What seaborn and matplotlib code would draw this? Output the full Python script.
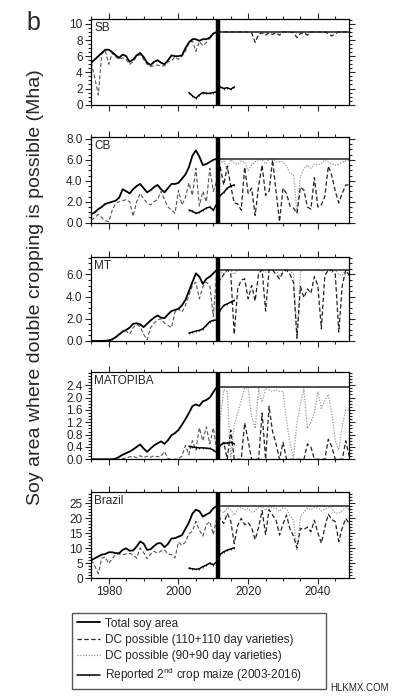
import matplotlib
matplotlib.use("Agg")
import matplotlib.pyplot as plt
import pandas as pd
import seaborn as sns
from matplotlib.ticker import MultipleLocator, FixedLocator, FormatStrFormatter

# years covered by each kind of series
HIST_YEARS = list(range(1975, 2012))
FUT_YEARS = list(range(2011, 2050))
ALL_YEARS = list(range(1975, 2050))
MAIZE_YEARS = list(range(2003, 2017))

REGIONS = ["SB", "CB", "MT", "MATOPIBA", "Brazil"]

# total soy area, 1975-2011 (Mha)
SB_TOTAL = [5.2, 5.6, 6.0, 6.4, 6.8, 6.8, 6.5, 6.1, 5.8, 6.2, 6.0, 5.3, 5.6, 6.1, 6.4, 5.9, 5.2, 4.9, 5.3,
            5.5, 5.2, 5.0, 5.5, 6.1, 6.0, 6.0, 6.1, 7.0, 7.7, 8.1, 8.1, 7.9, 8.1, 8.1, 8.3, 8.8, 9.0]
CB_TOTAL = [0.8, 1.0, 1.3, 1.5, 1.8, 1.9, 2.0, 2.1, 2.4, 3.2, 3.0, 2.8, 3.2, 3.5, 3.7, 3.3, 2.9, 3.1, 3.4,
            3.6, 3.2, 2.9, 3.3, 3.7, 3.7, 3.8, 4.2, 4.6, 5.3, 6.4, 6.9, 6.3, 5.5, 5.6, 5.8, 6.0, 6.1]
MT_TOTAL = [0.0, 0.0, 0.0, 0.0, 0.02, 0.05, 0.15, 0.35, 0.6, 0.85, 1.0, 1.2, 1.55, 1.6, 1.5, 1.25, 1.55,
            1.85, 2.1, 2.3, 2.1, 2.05, 2.4, 2.7, 2.8, 2.9, 3.2, 3.7, 4.5, 5.3, 6.1, 5.8, 5.15, 5.6, 5.8,
            6.1, 6.4]
MATOPIBA_TOTAL = [0.0, 0.0, 0.0, 0.0, 0.0, 0.0, 0.0, 0.02, 0.08, 0.15, 0.2, 0.25, 0.32, 0.4, 0.48, 0.35,
                  0.24, 0.35, 0.45, 0.52, 0.58, 0.5, 0.62, 0.78, 0.85, 0.95, 1.12, 1.3, 1.5, 1.72, 1.78,
                  1.73, 1.88, 1.92, 2.0, 2.18, 2.34]
BRAZIL_TOTAL = [6.0, 6.6, 7.2, 7.8, 8.0, 8.6, 8.6, 8.3, 8.3, 9.4, 9.9, 9.1, 9.2, 10.5, 12.2, 11.5, 9.4,
                9.6, 10.7, 11.6, 11.6, 10.3, 11.4, 13.2, 13.3, 13.8, 14.3, 16.4, 18.5, 21.5, 22.8, 22.3,
                20.5, 21.2, 21.8, 23.3, 24.0]

# DC possible with 110+110 day varieties, 1975-2049
SB_DC110 = [5.2, 3.3, 1.2, 6.3, 6.7, 5.0, 6.4, 5.9, 5.6, 5.8, 5.6, 5.0, 5.3, 6.0, 6.2, 5.6, 5.0, 4.7, 4.8,
            4.9, 4.8, 4.8, 5.3, 5.4, 5.9, 5.6, 6.0, 6.6, 7.6, 7.9, 6.6, 7.8, 7.3, 7.7, 8.2, 8.8, 9.0,
            9.0, 9.0, 9.0, 9.0, 9.0, 9.0, 9.0, 9.0, 9.0, 8.9, 7.7, 8.7, 8.9, 8.6, 8.9, 8.7, 8.9, 8.6,
            9.0, 9.0, 9.0, 8.9, 8.3, 8.8, 8.9, 8.6, 9.0, 9.0, 9.0, 9.0, 9.0, 8.8, 8.5, 8.8, 9.0, 9.0,
            9.0, 9.0]
CB_DC110 = [0.25, 0.5, 0.8, 0.5, 0.2, 0.1, 1.2, 1.85, 2.0, 2.1, 2.2, 2.0, 0.6, 2.0, 2.8, 2.3, 1.9, 1.7,
            2.0, 2.2, 3.0, 2.2, 1.5, 1.2, 0.9, 3.1, 1.7, 2.4, 3.8, 2.6, 5.2, 1.6, 3.0, 2.0, 5.2, 3.0, 4.0,
            5.3, 3.6, 5.4, 3.5, 1.9, 1.8, 1.2, 5.3, 2.8, 3.3, 0.7, 3.5, 5.5, 2.6, 3.0, 6.0, 3.0, 0.1,
            3.3, 2.8, 1.6, 1.4, 0.9, 3.4, 3.1, 1.5, 1.3, 4.3, 1.5, 1.7, 2.5, 5.4, 4.5, 3.0, 1.9, 2.8,
            3.6, 3.6]
MT_DC110 = [0.0, 0.0, 0.0, 0.0, 0.0, 0.02, 0.1, 0.3, 0.55, 0.8, 0.9, 0.6, 1.2, 1.5, 1.3, 0.6, 0.1, 1.2,
            1.6, 1.9, 2.0, 1.6, 1.4, 1.2, 2.6, 2.9, 2.6, 3.2, 4.1, 5.0, 5.3, 3.8, 4.9, 5.3, 5.0, 2.2, 6.4,
            5.5, 6.0, 6.4, 6.1, 0.6, 4.7, 5.5, 5.6, 3.8, 5.0, 3.6, 6.1, 6.4, 2.7, 6.4, 6.4, 6.0, 5.6,
            6.2, 6.4, 6.0, 5.3, 0.25, 4.9, 3.9, 4.7, 4.3, 5.8, 5.0, 1.1, 5.9, 6.4, 6.4, 6.0, 0.8, 5.0,
            6.4, 5.9]
MATOPIBA_DC110 = [0.0, 0.0, 0.0, 0.0, 0.0, 0.0, 0.0, 0.0, 0.0, 0.02, 0.05, 0.08, 0.1, 0.05, 0.12, 0.05,
                  0.1, 0.06, 0.12, 0.08, 0.1, 0.25, 0.02, 0.0, 0.0, 0.02, 0.1, 0.45, 0.15, 0.6, 0.3,
                  1.02, 0.6, 1.05, 0.5, 1.02, 0.3,
                  0.45, 0.55, 0.0, 0.95, 0.0, 0.0, 0.0, 1.18, 0.6, 0.0, 0.0, 0.0, 1.5, 0.0, 1.72, 0.9,
                  0.5, 0.0, 0.55, 0.0, 0.0, 0.0, 0.0, 0.0, 0.0, 0.5, 0.4, 0.0, 0.0, 0.0, 0.0, 0.65, 0.4,
                  0.0, 0.0, 0.0, 0.6, 0.1]
BRAZIL_DC110 = [6.0, 4.0, 1.5, 6.7, 7.0, 4.8, 6.5, 7.9, 8.0, 7.8, 8.0, 8.2, 7.8, 6.6, 10.0, 8.5, 6.4, 8.0,
                8.9, 8.3, 9.0, 9.4, 8.0, 7.8, 6.7, 12.0, 10.9, 12.0, 14.8, 15.6, 18.9, 16.0, 14.0, 17.8,
                18.8, 14.5, 20.0,
                19.9, 18.2, 21.6, 19.0, 11.5, 17.5, 19.9, 17.8, 18.5, 16.8, 12.8, 17.0, 22.5, 14.5, 22.8,
                21.0, 19.4, 14.3, 18.0, 21.0, 16.4, 14.0, 10.0, 16.6, 16.2, 17.0, 15.4, 19.3, 15.0, 11.6,
                17.0, 21.3, 19.5, 18.8, 12.2, 16.7, 19.9, 18.2]

# DC possible with 90+90 day varieties, 2011-2049
SB_DC90 = [9.0, 9.0, 9.0, 9.0, 9.0, 9.0, 9.0, 9.0, 9.0, 9.0, 9.0, 9.0, 9.0, 9.0, 8.8, 9.0, 9.0, 9.0, 9.0,
           9.0, 9.0, 9.0, 9.0, 8.8, 9.0, 9.0, 9.0, 9.0, 9.0, 9.0, 9.0, 9.0, 9.0, 9.0, 9.0, 9.0, 9.0, 9.0,
           9.0]
CB_DC90 = [6.1, 5.8, 5.9, 5.0, 6.0, 5.7, 5.6, 5.9, 5.8, 5.0, 5.5, 5.8, 6.0, 6.0, 5.6, 6.1, 6.1, 5.8, 5.8,
           5.8, 5.4, 4.7, 4.6, 1.0, 4.4, 5.2, 5.5, 5.2, 5.6, 5.5, 5.7, 6.0, 5.8, 5.6, 5.5, 5.6, 5.8, 5.9,
           6.0]
MT_DC90 = [6.4, 6.4, 6.0, 6.4, 6.4, 6.0, 6.4, 6.4, 6.4, 6.4, 6.4, 6.4, 6.4, 6.4, 6.2, 6.4, 6.4, 6.4, 5.8,
           6.4, 6.4, 6.4, 6.0, 0.3, 6.2, 6.4, 6.4, 6.4, 6.4, 6.4, 6.3, 6.4, 6.4, 6.2, 6.4, 6.0, 5.9, 6.4,
           6.4]
MATOPIBA_DC90 = [0.3, 1.3, 2.25, 2.2, 0.05, 1.1, 1.5, 1.9, 2.32, 2.3, 1.4, 1.0, 2.3, 1.85, 2.3, 2.25, 2.2,
                 2.25, 2.2, 2.2, 1.25, 0.5, 0.05, 1.2, 1.8, 2.28, 1.0, 1.2, 1.5, 2.2, 1.65, 1.9, 2.1, 1.5,
                 0.6, 0.3, 1.1, 1.6, 1.6]
BRAZIL_DC90 = [24.0, 22.5, 21.8, 23.5, 22.8, 21.0, 23.0, 23.6, 22.8, 23.2, 22.0, 22.3, 23.6, 23.8, 22.6,
               23.8, 23.5, 23.2, 22.3, 23.5, 23.0, 21.0, 19.4, 9.5, 20.5, 22.0, 23.3, 22.8, 23.6, 23.4,
               22.4, 23.0, 23.7, 23.2, 21.7, 21.6, 22.5, 23.5, 23.0]

# reported 2nd crop maize, 2003-2016
SB_MAIZE = [1.5, 1.1, 0.8, 1.2, 1.5, 1.4, 1.4, 1.5, 1.6, 2.2, 2.0, 2.1, 1.9, 2.2]
CB_MAIZE = [1.2, 1.1, 0.9, 1.0, 1.2, 1.4, 1.5, 1.2, 1.8, 2.6, 2.9, 3.3, 3.5, 3.6]
MT_MAIZE = [0.7, 0.8, 0.9, 0.95, 1.1, 1.4, 1.75, 1.85, 1.9, 2.8, 3.2, 3.35, 3.5, 3.65]
MATOPIBA_MAIZE = [0.42, 0.40, 0.38, 0.37, 0.37, 0.36, 0.35, 0.30, 0.22, 0.45, 0.52, 0.53, 0.55, 0.50]
BRAZIL_MAIZE = [3.3, 3.1, 2.9, 3.1, 3.8, 4.3, 5.0, 4.4, 5.4, 7.9, 8.8, 9.3, 9.7, 10.1]

Y_TOPS = [10.6, 8.15, 7.6, 2.84, 28.8]
Y_TICKS = [[0, 2, 4, 6, 8, 10], [0, 2, 4, 6, 8], [0, 2, 4, 6],
           [0, 0.4, 0.8, 1.2, 1.6, 2.0, 2.4], [0, 5, 10, 15, 20, 25]]
Y_MINOR = [0.5, 0.5, 0.5, 0.1, 1]
Y_FMT = ["%d", "%.1f", "%.1f", "%.1f", "%d"]

SERIES = {
    "SB": (SB_TOTAL, SB_DC110, SB_DC90, SB_MAIZE),
    "CB": (CB_TOTAL, CB_DC110, CB_DC90, CB_MAIZE),
    "MT": (MT_TOTAL, MT_DC110, MT_DC90, MT_MAIZE),
    "MATOPIBA": (MATOPIBA_TOTAL, MATOPIBA_DC110, MATOPIBA_DC90, MATOPIBA_MAIZE),
    "Brazil": (BRAZIL_TOTAL, BRAZIL_DC110, BRAZIL_DC90, BRAZIL_MAIZE),
}

sns.set_style("ticks")
plt.rcParams["font.family"] = ["Liberation Sans", "DejaVu Sans"]
plt.rcParams["mathtext.fontset"] = "custom"
plt.rcParams["mathtext.rm"] = "Liberation Sans"

fig = plt.figure(figsize=(3.98, 6.96), dpi=100)
panel_boxes = [
    (0.2286, 0.8496, 0.648, 0.1231),
    (0.2286, 0.6800, 0.648, 0.1227),
    (0.2286, 0.5101, 0.648, 0.1211),
    (0.2286, 0.3401, 0.648, 0.1259),
    (0.2286, 0.1695, 0.648, 0.1240),
]

for i, region in enumerate(REGIONS):
    ax = fig.add_axes(panel_boxes[i])
    total, dc110, dc90, maize = SERIES[region]
    hist = pd.DataFrame({"year": HIST_YEARS, "total": total})
    dc = pd.DataFrame({"year": ALL_YEARS, "dc110": dc110})
    fut = pd.DataFrame({"year": FUT_YEARS, "dc90": dc90})
    mz = pd.DataFrame({"year": MAIZE_YEARS, "maize": maize})
    last = hist["total"].iloc[-1]

    sns.lineplot(data=dc[dc.year <= 2011], x="year", y="dc110", ax=ax, color="#555555",
                 linewidth=0.8, linestyle=(0, (3.5, 2)))
    sns.lineplot(data=fut, x="year", y="dc90", ax=ax, color="#9a9a9a", linewidth=0.9,
                 linestyle=(0, (1, 1.2)), label="DC possible (90+90 day varieties)")
    ax.hlines(last, FUT_YEARS[0], FUT_YEARS[-1], color="#333333", linewidth=1.2)
    sns.lineplot(data=dc[dc.year >= 2011], x="year", y="dc110", ax=ax, color="#222222",
                 linewidth=0.9, linestyle=(0, (3.5, 2)),
                 label="DC possible (110+110 day varieties)")
    sns.lineplot(data=hist, x="year", y="total", ax=ax, color="black", linewidth=1.3,
                 label="Total soy area")
    sns.lineplot(data=mz, x="year", y="maize", ax=ax, color="black", linewidth=1.1,
                 marker="|", markersize=1.6, markeredgewidth=0.5, markeredgecolor="black",
                 label="Reported 2$^{\\mathrm{nd}}$ crop maize (2003-2016)")
    ax.axvline(2011.35, color="black", linewidth=3.2)

    ax.set_xlim(1974.9, 2048.9)
    ax.set_ylim(0, Y_TOPS[i])
    ax.xaxis.set_major_locator(MultipleLocator(20))
    ax.xaxis.set_minor_locator(MultipleLocator(5))
    ax.yaxis.set_major_locator(FixedLocator(Y_TICKS[i]))
    ax.yaxis.set_minor_locator(MultipleLocator(Y_MINOR[i]))
    ax.yaxis.set_major_formatter(FormatStrFormatter(Y_FMT[i]))
    ax.tick_params(which="both", direction="out", top=True, right=True, width=0.8,
                   labelsize=8.5, pad=2)
    ax.tick_params(which="major", length=4)
    ax.tick_params(which="minor", length=2)
    for sp in ax.spines.values():
        sp.set_linewidth(0.9)
        sp.set_color("black")
    ax.set_xlabel("")
    ax.set_ylabel("")
    if i < len(REGIONS) - 1:
        ax.tick_params(labelbottom=False)
    ax.text(0.012, 0.965, region, transform=ax.transAxes, ha="left", va="top", fontsize=8.5)
    handles, labels = ax.get_legend_handles_labels()
    ax.legend_.remove()

order = [2, 1, 0, 3]
fig.legend([handles[k] for k in order], [labels[k] for k in order],
           loc="upper left", bbox_to_anchor=(0.181, 0.0115, 0.638, 0.108), mode="expand",
           fontsize=8.5, frameon=True, fancybox=False, edgecolor="#555555", framealpha=1,
           handlelength=2.0, handletextpad=0.4, labelspacing=0.35, borderpad=0.4,
           borderaxespad=0)

fig.text(0.088, 0.588, "Soy area where double cropping is possible (Mha)", rotation=90,
         ha="center", va="center", fontsize=14)
fig.text(0.066, 0.957, "b", fontsize=18, ha="left", va="baseline")
fig.text(0.83, 0.004, "HLKMX.COM", fontsize=7, ha="left", va="bottom")

fig.savefig("out.png", dpi=100)
